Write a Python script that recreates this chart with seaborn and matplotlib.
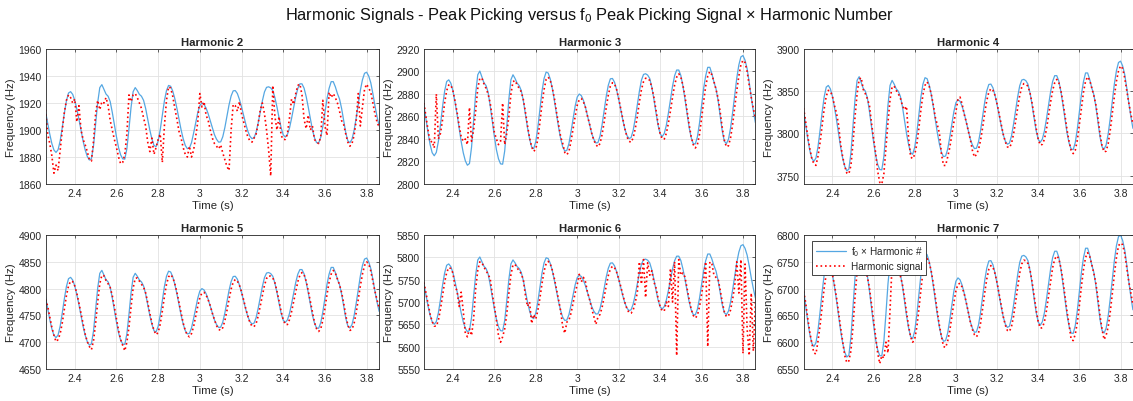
import numpy as np
import pandas as pd
import matplotlib
matplotlib.use("Agg")
import matplotlib.pyplot as plt
import seaborn as sns
from matplotlib.ticker import FuncFormatter, MultipleLocator
from matplotlib.lines import Line2D

# ---------------- data ----------------
time_s = [round(2.26 + 0.01 * i, 2) for i in range(161)]

f0_hz = [
    956.7, 952.5, 948.5, 945.0, 942.6, 941.7, 942.7, 946.0, 950.9, 956.2,
    960.8, 963.7, 964.2, 963.2, 961.0, 957.7, 954.0, 949.9, 945.9, 942.6,
    940.2, 938.9, 939.4, 944.2, 952.1, 960.2, 965.7, 966.8, 965.0, 963.3,
    962.5, 960.5, 956.5, 952.0, 947.5, 943.5, 940.8, 939.3, 939.2, 943.1,
    950.4, 958.4, 964.2, 965.7, 964.6, 963.2, 962.5, 961.0, 958.0, 954.0,
    950.0, 946.7, 944.3, 943.8, 945.9, 950.1, 955.4, 960.8, 964.6, 966.5,
    966.2, 964.4, 961.6, 958.0, 954.0, 950.1, 946.8, 944.3, 943.1, 943.3,
    945.3, 948.8, 952.7, 956.4, 959.1, 960.0, 959.5, 958.1, 956.0, 953.4,
    950.7, 948.3, 946.6, 945.5, 945.6, 947.5, 950.9, 955.1, 959.3, 962.6,
    964.5, 964.6, 963.5, 961.3, 958.5, 955.4, 952.3, 949.6, 947.7, 946.8,
    947.1, 949.2, 952.7, 956.7, 960.8, 964.1, 965.8, 966.0, 965.6, 964.6,
    962.0, 958.5, 954.5, 950.8, 948.2, 947.4, 948.3, 950.7, 954.3, 958.4,
    962.3, 965.4, 967.1, 967.1, 965.5, 962.4, 958.5, 954.2, 950.1, 947.1,
    945.3, 945.2, 947.3, 951.3, 956.4, 961.6, 965.4, 967.9, 967.9, 966.0,
    963.5, 961.5, 958.0, 953.5, 949.0, 946.0, 945.3, 946.6, 949.9, 954.5,
    959.7, 964.7, 968.6, 971.0, 971.4, 970.0, 967.5, 963.5, 959.0, 955.0,
    951.5,
]

harmonic_2 = [
    1915, 1897, 1890, 1881, 1868, 1874, 1870, 1885, 1900, 1913,
    1922, 1926, 1924, 1920, 1923, 1906, 1918, 1900, 1893, 1889,
    1884, 1878, 1877, 1892, 1912, 1922, 1915, 1921, 1920, 1924,
    1918, 1907, 1900, 1893, 1887, 1880, 1875, 1876, 1882, 1897,
    1926, 1921, 1926, 1927, 1924, 1920, 1916, 1909, 1903, 1891,
    1884, 1894, 1882, 1887, 1893, 1897, 1876, 1903, 1922, 1932,
    1931, 1925, 1916, 1908, 1899, 1894, 1887, 1882, 1880, 1888,
    1880, 1885, 1895, 1906, 1927, 1917, 1921, 1911, 1907, 1900,
    1894, 1890, 1888, 1886, 1889, 1883, 1878, 1873, 1870, 1900,
    1919, 1918, 1914, 1921, 1912, 1906, 1900, 1895, 1892, 1891,
    1894, 1897, 1905, 1915, 1920, 1912, 1900, 1885, 1866, 1933,
    1910, 1900, 1910, 1896, 1893, 1893, 1897, 1909, 1923, 1919,
    1927, 1933, 1934, 1926, 1908, 1901, 1911, 1900, 1903, 1893,
    1891, 1890, 1895, 1922, 1903, 1896, 1928, 1924, 1927, 1924,
    1920, 1914, 1907, 1904, 1897, 1891, 1888, 1890, 1896, 1907,
    1927, 1903, 1917, 1930, 1934, 1931, 1928, 1920, 1912, 1906,
    1902,
]

harmonic_3 = [
    2872, 2860, 2848, 2837, 2838, 2832, 2880, 2840, 2845, 2857,
    2872, 2883, 2888, 2888, 2883, 2874, 2864, 2852, 2842, 2838,
    2840, 2835, 2868, 2838, 2848, 2865, 2885, 2894, 2894, 2889,
    2885, 2880, 2872, 2859, 2846, 2840, 2835, 2838, 2872, 2835,
    2845, 2860, 2880, 2891, 2892, 2888, 2885, 2882, 2875, 2864,
    2852, 2841, 2833, 2829, 2831, 2840, 2855, 2871, 2884, 2893,
    2895, 2892, 2885, 2876, 2864, 2853, 2842, 2836, 2828, 2826,
    2829, 2838, 2849, 2860, 2870, 2875, 2876, 2873, 2868, 2860,
    2853, 2845, 2839, 2835, 2833, 2836, 2844, 2855, 2868, 2879,
    2887, 2890, 2889, 2884, 2876, 2867, 2858, 2849, 2842, 2838,
    2837, 2841, 2849, 2860, 2873, 2884, 2891, 2894, 2894, 2892,
    2886, 2877, 2866, 2854, 2845, 2840, 2840, 2845, 2854, 2865,
    2877, 2888, 2895, 2898, 2895, 2888, 2878, 2865, 2853, 2842,
    2835, 2832, 2835, 2844, 2858, 2873, 2887, 2896, 2900, 2897,
    2891, 2884, 2876, 2864, 2850, 2839, 2833, 2834, 2841, 2853,
    2868, 2883, 2896, 2906, 2910, 2908, 2900, 2888, 2877, 2867,
    2858,
]

harmonic_4 = [
    3830, 3814, 3797, 3782, 3770, 3764, 3762, 3773, 3789, 3809,
    3829, 3844, 3851, 3850, 3844, 3833, 3824, 3810, 3787, 3772,
    3761, 3753, 3752, 3762, 3788, 3820, 3847, 3864, 3866, 3852,
    3847, 3841, 3833, 3812, 3794, 3777, 3755, 3742, 3740, 3752,
    3782, 3813, 3840, 3855, 3856, 3851, 3847, 3842, 3833, 3828,
    3832, 3795, 3772, 3770, 3775, 3787, 3806, 3828, 3846, 3857,
    3861, 3856, 3847, 3834, 3819, 3810, 3800, 3775, 3762, 3762,
    3772, 3783, 3798, 3813, 3826, 3840, 3843, 3835, 3823, 3814,
    3803, 3793, 3780, 3772, 3775, 3781, 3792, 3807, 3824, 3839,
    3849, 3853, 3851, 3845, 3835, 3823, 3811, 3799, 3790, 3784,
    3783, 3788, 3799, 3814, 3830, 3845, 3855, 3859, 3858, 3856,
    3848, 3836, 3821, 3806, 3793, 3786, 3787, 3793, 3805, 3821,
    3837, 3851, 3860, 3864, 3860, 3851, 3837, 3821, 3804, 3790,
    3780, 3776, 3780, 3792, 3811, 3831, 3849, 3862, 3867, 3863,
    3854, 3845, 3834, 3818, 3800, 3785, 3778, 3779, 3788, 3804,
    3824, 3844, 3862, 3874, 3880, 3877, 3866, 3851, 3836, 3823,
    3811,
]

harmonic_5 = [
    4780, 4767, 4747, 4728, 4713, 4701, 4705, 4716, 4736, 4762,
    4787, 4805, 4814, 4813, 4805, 4791, 4773, 4754, 4734, 4715,
    4701, 4692, 4686, 4703, 4735, 4775, 4809, 4825, 4824, 4815,
    4809, 4802, 4787, 4765, 4743, 4722, 4705, 4694, 4684, 4700,
    4728, 4766, 4801, 4819, 4820, 4814, 4808, 4803, 4792, 4774,
    4754, 4736, 4722, 4714, 4718, 4734, 4758, 4785, 4808, 4822,
    4826, 4821, 4809, 4793, 4774, 4754, 4736, 4722, 4713, 4710,
    4716, 4729, 4748, 4767, 4783, 4792, 4793, 4788, 4779, 4768,
    4754, 4742, 4731, 4724, 4722, 4727, 4740, 4759, 4780, 4799,
    4812, 4817, 4814, 4806, 4794, 4779, 4763, 4749, 4737, 4730,
    4729, 4735, 4749, 4768, 4788, 4806, 4819, 4824, 4823, 4820,
    4811, 4795, 4777, 4757, 4742, 4733, 4733, 4742, 4757, 4776,
    4796, 4813, 4825, 4830, 4826, 4814, 4796, 4776, 4755, 4737,
    4725, 4720, 4725, 4741, 4763, 4789, 4812, 4827, 4834, 4829,
    4818, 4807, 4793, 4773, 4750, 4732, 4722, 4724, 4735, 4755,
    4780, 4805, 4827, 4843, 4850, 4846, 4833, 4814, 4795, 4779,
    4764,
]

harmonic_6 = [
    5744, 5720, 5696, 5673, 5656, 5646, 5646, 5659, 5684, 5714,
    5744, 5766, 5777, 5775, 5765, 5735, 5725, 5690, 5722, 5680,
    5630, 5622, 5640, 5625, 5662, 5730, 5771, 5790, 5788, 5778,
    5770, 5762, 5752, 5718, 5691, 5660, 5625, 5610, 5622, 5640,
    5673, 5719, 5761, 5783, 5784, 5776, 5770, 5763, 5750, 5715,
    5690, 5700, 5652, 5672, 5662, 5681, 5709, 5741, 5769, 5786,
    5791, 5785, 5771, 5752, 5729, 5705, 5680, 5645, 5630, 5655,
    5659, 5675, 5697, 5720, 5739, 5762, 5745, 5755, 5745, 5721,
    5705, 5685, 5668, 5650, 5666, 5672, 5688, 5711, 5736, 5759,
    5774, 5780, 5777, 5767, 5752, 5735, 5716, 5699, 5685, 5676,
    5675, 5682, 5699, 5721, 5790, 5740, 5795, 5710, 5788, 5760,
    5770, 5745, 5732, 5709, 5690, 5680, 5680, 5700, 5690, 5775,
    5700, 5790, 5580, 5795, 5760, 5765, 5756, 5731, 5706, 5684,
    5670, 5664, 5670, 5689, 5716, 5747, 5790, 5600, 5790, 5785,
    5760, 5755, 5751, 5727, 5700, 5678, 5667, 5669, 5682, 5706,
    5735, 5790, 5720, 5795, 5585, 5785, 5640, 5580, 5720, 5590,
    5700,
]

harmonic_7 = [
    6695, 6674, 6645, 6619, 6598, 6580, 6578, 6602, 6631, 6666,
    6701, 6727, 6739, 6738, 6726, 6707, 6683, 6655, 6627, 6601,
    6575, 6562, 6565, 6584, 6629, 6685, 6732, 6755, 6753, 6741,
    6732, 6722, 6701, 6671, 6640, 6610, 6580, 6560, 6575, 6570,
    6600, 6580, 6660, 6746, 6748, 6739, 6732, 6724, 6708, 6684,
    6656, 6630, 6610, 6600, 6606, 6628, 6661, 6698, 6731, 6750,
    6756, 6749, 6733, 6710, 6684, 6656, 6631, 6610, 6592, 6590,
    6602, 6621, 6647, 6673, 6696, 6708, 6710, 6703, 6691, 6675,
    6656, 6638, 6624, 6614, 6610, 6617, 6636, 6663, 6692, 6718,
    6736, 6743, 6740, 6728, 6711, 6690, 6669, 6648, 6632, 6622,
    6620, 6629, 6648, 6675, 6703, 6729, 6746, 6753, 6752, 6747,
    6735, 6713, 6687, 6660, 6638, 6626, 6627, 6638, 6659, 6686,
    6714, 6739, 6755, 6761, 6756, 6739, 6715, 6686, 6657, 6632,
    6605, 6603, 6615, 6637, 6669, 6705, 6736, 6758, 6767, 6760,
    6745, 6729, 6710, 6682, 6650, 6624, 6605, 6613, 6629, 6657,
    6691, 6727, 6758, 6780, 6785, 6782, 6766, 6740, 6713, 6691,
    6670,
]

harmonic_numbers = [2, 3, 4, 5, 6, 7]
harmonic_signals = [harmonic_2, harmonic_3, harmonic_4, harmonic_5, harmonic_6, harmonic_7]
y_ranges = [(1860, 1960), (2800, 2920), (3740, 3900), (4650, 4900), (5550, 5850), (6550, 6800)]
y_steps = [20, 20, 50, 50, 50, 50]

# ---------------- style ----------------
sns.set_style("white")
plt.rcParams["font.family"] = ["Liberation Sans", "DejaVu Sans"]
plt.rcParams["mathtext.default"] = "regular"

BLUE = "#55a7e2"
RED = "#ff0000"
DARK = "#262626"
DOTS = (0, (1.0, 1.7))

fig = plt.figure(figsize=(11.33, 4.02), dpi=100)
W, H = 1133.0, 402.0
cols = [(46, 378.7), (424.3, 755), (804, 1132.5)]
rows = [(50, 185), (236, 370)]


def fmt(v, pos):
    s = f"{v:.1f}"
    return s[:-2] if s.endswith(".0") else s


for i, n in enumerate(harmonic_numbers):
    r, c = divmod(i, 3)
    x0, x1 = cols[c]
    y0, y1 = rows[r]
    ax = fig.add_axes([x0 / W, 1 - y1 / H, (x1 - x0) / W, (y1 - y0) / H])
    df = pd.DataFrame({
        "Time (s)": time_s,
        "f0n": np.asarray(f0_hz) * n,
        "harm": harmonic_signals[i],
    })
    sns.lineplot(data=df, x="Time (s)", y="f0n", ax=ax, color=BLUE, lw=0.9)
    sns.lineplot(data=df, x="Time (s)", y="harm", ax=ax, color=RED, lw=1.2,
                 linestyle=DOTS)
    ax.set_xlim(2.262, 3.858)
    ax.set_ylim(*y_ranges[i])
    ax.xaxis.set_major_locator(MultipleLocator(0.2))
    ax.yaxis.set_major_locator(MultipleLocator(y_steps[i]))
    ax.xaxis.set_major_formatter(FuncFormatter(fmt))
    ax.yaxis.set_major_formatter(FuncFormatter(lambda v, p: f"{v:.0f}"))
    ax.grid(True, color="#e2e2e2", lw=0.6)
    ax.set_axisbelow(True)
    for sp in ax.spines.values():
        sp.set_color(DARK)
        sp.set_linewidth(0.6)
    ax.tick_params(direction="in", length=2.5, width=0.5, labelsize=7.5,
                   colors=DARK, top=True, right=True, pad=3)
    ax.set_xlabel("Time (s)", fontsize=8.2, color=DARK, labelpad=1)
    ax.set_ylabel("Frequency (Hz)", fontsize=8.2, color=DARK, labelpad=2)
    ax.set_title(f"Harmonic {n}", fontsize=8.2, fontweight="bold", pad=3)

    if n == 7:
        handles = [Line2D([], [], color=BLUE, lw=0.9),
                   Line2D([], [], color=RED, lw=1.2, linestyle=DOTS)]
        leg = ax.legend(handles, ["f$_0$ × Harmonic #", "Harmonic signal"],
                        loc="upper left", bbox_to_anchor=(0.025, 0.955),
                        fontsize=7.2, frameon=True, fancybox=False,
                        framealpha=1, edgecolor=DARK, handlelength=3.0,
                        borderpad=0.35, labelspacing=0.3, handletextpad=0.5,
                        borderaxespad=0)
        leg.get_frame().set_linewidth(0.6)

fig.text(0.52, 0.962,
         "Harmonic Signals - Peak Picking versus f$_0$ Peak Picking Signal × Harmonic Number",
         ha="center", va="center", fontsize=11.8, color="#111111")

fig.savefig("out.png", dpi=100)
